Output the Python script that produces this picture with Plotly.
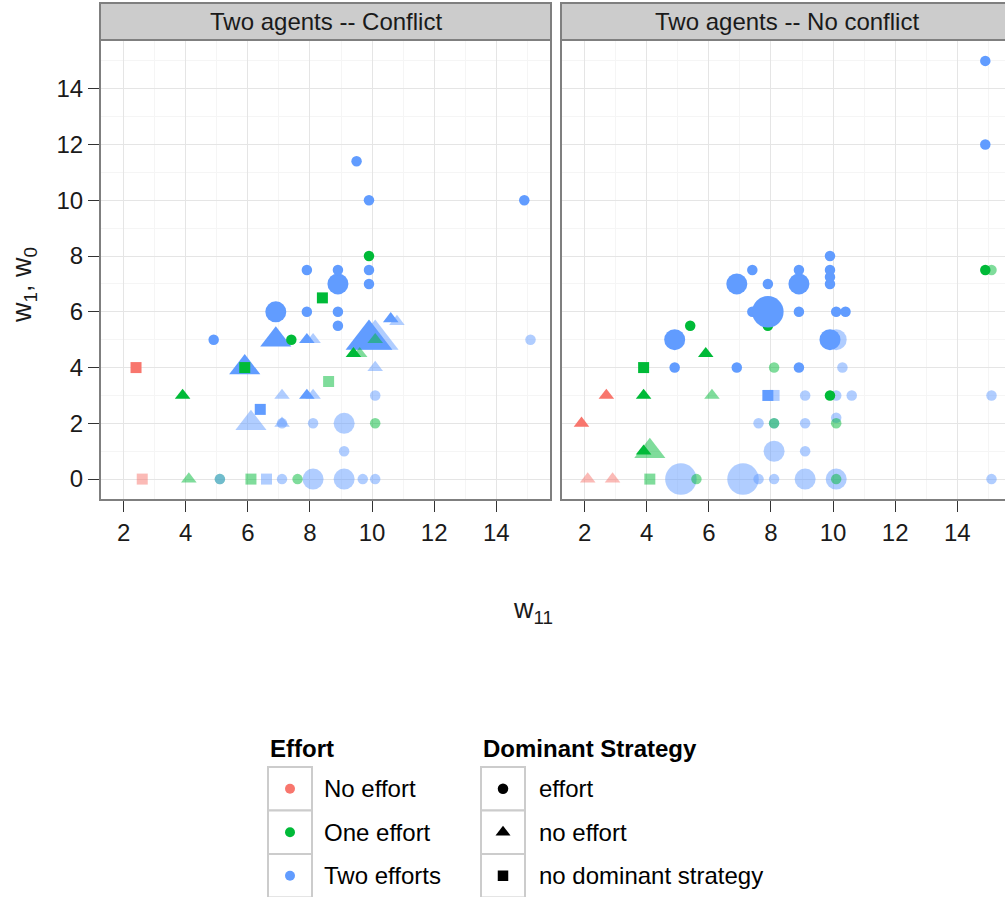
import plotly.graph_objects as go

# ---------------- data ----------------
# efforts: number of agents exerting effort (0, 1, 2)
# strategy: dominant strategy  E = effort, NE = no effort, ND = no dominant strategy
# count: number of games at that point, observed: 1 = observed, 0 = predicted only

conflict_w11 = [2.6, 4.1, 5.1, 5.1, 6.1, 6.6, 7.1, 7.6, 8.1, 9.1,
                9.7, 10.1, 9.1, 6.1, 7.1, 7.1, 8.1, 9.1, 10.1, 7.1,
                8.1, 10.1, 8.6, 10.1, 8.1, 10.1, 10.8, 15.1, 2.4, 3.9,
                6.4, 7.9, 5.9, 5.9, 4.9, 6.9, 7.4, 7.9, 9.9, 9.4,
                9.6, 10.1, 10.6, 8.9, 6.9, 7.9, 8.9, 8.4, 8.9, 9.9,
                7.9, 8.9, 9.9, 9.9, 9.9, 14.9, 9.5]
conflict_w = [0, 0, 0, 0, 0, 0, 0, 0, 0, 0,
              0, 0, 1, 2, 2, 2, 2, 2, 2, 3,
              3, 3, 3.5, 4, 5, 5, 5.65, 5, 4, 3,
              2.5, 3, 4, 4, 5, 5, 5, 5, 5, 4.5,
              4.5, 5, 5.75, 5.5, 6, 6, 6, 6.5, 7, 7,
              7.5, 7.5, 7.5, 8, 10, 10, 11.4]
conflict_efforts = [0, 1, 1, 2, 1, 2, 2, 1, 2, 2,
                    2, 2, 2, 2, 2, 2, 2, 2, 1, 2,
                    2, 2, 1, 2, 2, 2, 2, 2, 0, 1,
                    2, 2, 2, 1, 2, 2, 1, 2, 2, 1,
                    1, 1, 2, 2, 2, 2, 2, 1, 2, 2,
                    2, 2, 2, 1, 2, 2, 2]
conflict_strategy = ["ND", "NE", "E", "E", "ND", "ND", "E", "E", "E", "E",
                     "E", "E", "E", "NE", "NE", "E", "E", "E", "E", "NE",
                     "NE", "E", "ND", "NE", "NE", "NE", "NE", "E", "ND", "NE",
                     "ND", "NE", "NE", "ND", "E", "NE", "E", "NE", "NE", "NE",
                     "NE", "NE", "NE", "E", "E", "E", "E", "ND", "E", "E",
                     "E", "E", "E", "E", "E", "E", "E"]
conflict_count = [1, 1, 1, 1, 1, 1, 1, 1, 2, 2,
                  1, 1, 1, 2, 1, 1, 1, 2, 1, 1,
                  1, 1, 1, 1, 1, 3, 1, 1, 1, 1,
                  1, 1, 2, 1, 1, 2, 1, 1, 3, 1,
                  1, 1, 1, 1, 2, 1, 1, 1, 2, 1,
                  1, 1, 1, 1, 1, 1, 1]
conflict_observed = [0] * 28 + [1] * 12 + [0, 0] + [1] * 15

noconf_w11 = [2.1, 2.9, 4.1, 5.1, 5.6, 7.1, 7.6, 8.1, 9.1, 10.1,
              10.1, 15.1, 4.1, 8.1, 9.1, 7.6, 8.1, 8.1, 9.1, 10.1,
              10.1, 6.1, 8.1, 9.1, 10.1, 10.6, 15.1, 8.1, 10.3, 10.1,
              15.1, 1.9, 2.7, 3.9, 3.9, 3.9, 7.9, 9.9, 4.9, 6.9,
              8.9, 5.9, 4.9, 9.9, 5.4, 7.9, 7.4, 7.9, 8.9, 10.1,
              10.4, 6.9, 7.9, 8.9, 9.9, 9.9, 7.4, 8.9, 9.9, 9.9,
              14.9, 14.9, 14.9]
noconf_w = [0, 0, 0, 0, 0, 0, 0, 0, 0, 0,
            0, 0, 1, 1, 1, 2, 2, 2, 2, 2.2,
            2, 3, 3, 3, 3, 3, 3, 4, 4, 5,
            7.5, 2, 3, 3, 1, 4, 3, 3, 4, 4,
            4, 4.5, 5, 5, 5.5, 5.5, 6, 6, 6, 6,
            6, 7, 7, 7, 7, 7.25, 7.5, 7.5, 7.5, 8,
            7.5, 12, 15]
noconf_efforts = [0, 0, 1, 2, 1, 2, 2, 2, 2, 2,
                  1, 2, 1, 2, 2, 2, 2, 1, 2, 2,
                  1, 1, 2, 2, 2, 2, 2, 1, 2, 2,
                  1, 0, 0, 1, 1, 1, 2, 1, 2, 2,
                  2, 1, 2, 2, 1, 1, 2, 2, 2, 2,
                  2, 2, 2, 2, 2, 2, 2, 2, 2, 2,
                  1, 2, 2]
noconf_strategy = ["NE", "NE", "ND", "E", "E", "E", "E", "E", "E", "E",
                   "E", "E", "NE", "E", "E", "E", "E", "E", "E", "E",
                   "E", "NE", "ND", "E", "E", "E", "E", "E", "E", "E",
                   "E", "NE", "NE", "NE", "NE", "ND", "ND", "E", "E", "E",
                   "E", "NE", "E", "E", "E", "E", "E", "E", "E", "E",
                   "E", "E", "E", "E", "E", "E", "E", "E", "E", "E",
                   "E", "E", "E"]
noconf_count = [1, 1, 1, 3, 1, 3, 1, 1, 2, 2,
                1, 1, 2, 2, 1, 1, 1, 1, 1, 1,
                1, 1, 1, 1, 1, 1, 1, 1, 1, 2,
                1, 1, 1, 1, 1, 1, 1, 1, 1, 1,
                1, 1, 2, 2, 1, 1, 1, 3, 1, 1,
                1, 2, 1, 2, 1, 1, 1, 1, 1, 1,
                1, 1, 1]
noconf_observed = [0] * 31 + [1] * 32

panel_titles = ["Two agents -- Conflict", "Two agents -- No conflict"]
effort_labels = ["No effort", "One effort", "Two efforts"]
strategy_codes = ["E", "NE", "ND"]
strategy_labels = ["effort", "no effort", "no dominant strategy"]

# ---------------- styling ----------------
W, H = 1005, 897
FONT = "Liberation Sans, Arial, Helvetica, sans-serif"
TEXT = "#1A1A1A"
effort_colors = ["#F8766D", "#00BA38", "#619CFF"]
symbols = {"E": "circle", "NE": "triangle-up", "ND": "square"}
base_size = {"E": 10.5, "NE": 13.5, "ND": 11}

# panel geometry in pixels
P_TOP, P_BOT = 40, 500
STRIP_TOP = 3
L_LEFT, L_RIGHT = 100, 551
R_LEFT = 561
PANEL_W = L_RIGHT - L_LEFT

XR = [1.24, 15.76]
YR = [-0.75, 15.75]
x_per_px = (XR[1] - XR[0]) / PANEL_W

# legend area in pixels (hosts the key markers)
LG_X0, LG_X1, LG_Y0, LG_Y1 = 260, 540, 760, 897


def fx(p):
    return p / W


def fy(p):
    return 1 - p / H


def marker_style(efforts, strategy, count, observed):
    return dict(
        color=[effort_colors[e] for e in efforts],
        symbol=[symbols[s] for s in strategy],
        size=[base_size[s] * n for s, n in zip(strategy, count)],
        opacity=[1.0 if o else 0.5 for o in observed],
        line=dict(width=0),
    )


fig = go.Figure()
fig.add_trace(go.Scatter(
    x=conflict_w11, y=conflict_w, mode="markers",
    marker=marker_style(conflict_efforts, conflict_strategy, conflict_count, conflict_observed),
    xaxis="x", yaxis="y", showlegend=False, hoverinfo="x+y"))
fig.add_trace(go.Scatter(
    x=noconf_w11, y=noconf_w, mode="markers",
    marker=marker_style(noconf_efforts, noconf_strategy, noconf_count, noconf_observed),
    xaxis="x2", yaxis="y2", showlegend=False, hoverinfo="x+y"))

# ---------------- legend keys ----------------
row_centres = [788.75, 832.25, 875.75]
key_w, key_h = 44, 43.5
col1_x, col2_x = 268, 481
fig.add_trace(go.Scatter(
    x=[col1_x + key_w / 2] * 3, y=row_centres, mode="markers",
    marker=dict(color=effort_colors, size=10, symbol="circle", line=dict(width=0)),
    xaxis="x3", yaxis="y3", showlegend=False, hoverinfo="skip"))
fig.add_trace(go.Scatter(
    x=[col2_x + key_w / 2] * 3, y=row_centres, mode="markers",
    marker=dict(color="#000000", size=[10.5, 13, 10.5], opacity=1,
                symbol=[symbols[c] for c in strategy_codes], line=dict(width=0)),
    xaxis="x3", yaxis="y3", showlegend=False, hoverinfo="skip"))

shapes = []
annotations = []

# key boxes
for cx in (col1_x, col2_x):
    for i in range(3):
        top = 767 + i * key_h
        shapes.append(dict(type="rect", xref="paper", yref="paper",
                           x0=fx(cx), x1=fx(cx + key_w), y0=fy(top + key_h), y1=fy(top),
                           line=dict(color="#CCCCCC", width=2), fillcolor="white",
                           layer="below"))

# panel borders and strips
for left in (L_LEFT, R_LEFT):
    right = left + PANEL_W
    shapes.append(dict(type="rect", xref="paper", yref="paper",
                       x0=fx(left), x1=fx(right), y0=fy(P_BOT), y1=fy(P_TOP),
                       line=dict(color="#7F7F7F", width=2), fillcolor="rgba(0,0,0,0)",
                       layer="above"))
    shapes.append(dict(type="rect", xref="paper", yref="paper",
                       x0=fx(left), x1=fx(right), y0=fy(P_TOP), y1=fy(STRIP_TOP),
                       line=dict(color="#7F7F7F", width=2), fillcolor="#CCCCCC",
                       layer="above"))

for left, title in zip((L_LEFT, R_LEFT), panel_titles):
    annotations.append(dict(text=title, x=fx(left + PANEL_W / 2), y=fy((STRIP_TOP + P_TOP) / 2),
                            xref="paper", yref="paper", showarrow=False,
                            xanchor="center", yanchor="middle",
                            font=dict(size=24, color=TEXT, family=FONT)))

# axis titles
annotations.append(dict(text="w<sub>11</sub>", x=fx(533), y=fy(611), xref="paper", yref="paper",
                        showarrow=False, xanchor="center", yanchor="middle",
                        font=dict(size=27, color=TEXT, family=FONT)))
annotations.append(dict(text="w<sub>1</sub>, w<sub>0</sub>", x=fx(24), y=fy(285), xref="paper",
                        yref="paper", showarrow=False, xanchor="center", yanchor="middle",
                        textangle=-90, font=dict(size=27, color=TEXT, family=FONT)))

# legend titles and labels
annotations.append(dict(text="<b>Effort</b>", x=fx(268), y=fy(748), xref="paper", yref="paper",
                        showarrow=False, xanchor="left", yanchor="middle",
                        font=dict(size=24, color="black", family=FONT)))
annotations.append(dict(text="<b>Dominant Strategy</b>", x=fx(481), y=fy(748), xref="paper",
                        yref="paper", showarrow=False, xanchor="left", yanchor="middle",
                        font=dict(size=24, color="black", family=FONT)))
for lab_list, lx in ((effort_labels, 322), (strategy_labels, 537)):
    for lab, yc in zip(lab_list, row_centres):
        annotations.append(dict(text=lab, x=fx(lx), y=fy(yc), xref="paper", yref="paper",
                                showarrow=False, xanchor="left", yanchor="middle",
                                font=dict(size=24, color="black", family=FONT)))

axis_common = dict(
    showgrid=True, gridcolor="#E5E5E5", gridwidth=1.3,
    zeroline=False, showline=False,
    tick0=0, dtick=2,
    minor=dict(dtick=1, showgrid=True, gridcolor="#F5F5F5", gridwidth=1.3),
    tickfont=dict(size=24, color=TEXT, family=FONT),
    ticks="outside", ticklen=11, tickwidth=1, tickcolor="#333333",
)
yaxis2_opts = {k: v for k, v in axis_common.items() if k not in ("ticks", "tickfont", "ticklen")}

fig.update_layout(
    width=W, height=H,
    margin=dict(l=0, r=0, t=0, b=0),
    paper_bgcolor="white", plot_bgcolor="rgba(0,0,0,0)",
    font=dict(family=FONT, color=TEXT),
    xaxis=dict(domain=[fx(L_LEFT), fx(L_RIGHT)], range=XR, anchor="y", **axis_common),
    yaxis=dict(domain=[fy(P_BOT), fy(P_TOP)], range=YR, anchor="x", **axis_common),
    xaxis2=dict(domain=[fx(R_LEFT), 1.0],
                range=[XR[0], XR[0] + (W - R_LEFT) * x_per_px], anchor="y2", **axis_common),
    yaxis2=dict(domain=[fy(P_BOT), fy(P_TOP)], range=YR, anchor="x2",
                ticks="", showticklabels=False, **yaxis2_opts),
    xaxis3=dict(domain=[fx(LG_X0), fx(LG_X1)], range=[LG_X0, LG_X1], visible=False,
                anchor="y3", fixedrange=True),
    yaxis3=dict(domain=[fy(LG_Y1), fy(LG_Y0)], range=[LG_Y1, LG_Y0], visible=False,
                anchor="x3", fixedrange=True),
    shapes=shapes,
    annotations=annotations,
)

fig.write_html("out.html")
